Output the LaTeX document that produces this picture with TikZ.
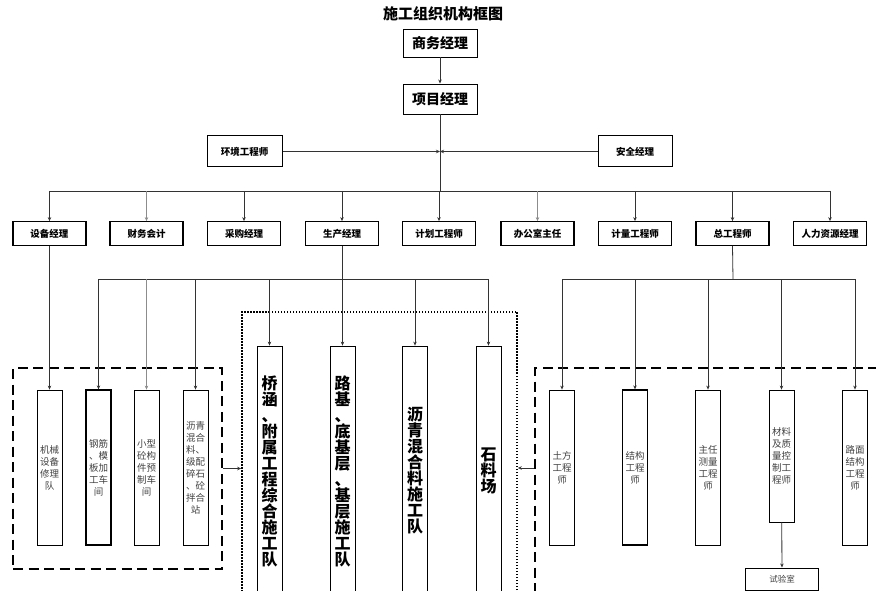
\documentclass[tikz,border=0pt]{standalone}
\usepackage{fontspec}
\setmainfont{Noto Sans CJK SC}
\usepackage{tikz}
\usetikzlibrary{arrows.meta, positioning}

\begin{document}
\begin{tikzpicture}[
    x=1pt, y=-1pt,
    mgr/.style={draw, line width=0.9pt, minimum width=74pt, minimum height=28pt,
      inner sep=0pt, font=\fontsize{14}{16}\selectfont\bfseries},
    side/.style={draw, line width=1pt, minimum width=75pt, minimum height=31pt,
      inner sep=0pt, font=\fontsize{9.5}{11}\selectfont\bfseries},
    dept/.style={draw, line width=1.3pt, minimum width=73pt, minimum height=23.5pt,
      inner sep=0pt, font=\fontsize{9.5}{11}\selectfont\bfseries},
    unit/.style={draw, line width=0.8pt, minimum width=25pt, minimum height=155pt,
      inner sep=0pt, align=center, text=black!75, font=\fontsize{9.5}{12}\selectfont},
    team/.style={draw, line width=0.8pt, minimum width=25pt, minimum height=250pt,
      inner sep=0pt, align=center, font=\fontsize{16}{16}\selectfont\bfseries},
    dashframe/.style={draw, line width=2.6pt, dash pattern=on 10pt off 5.5pt, inner sep=0pt},
    dotframe/.style={draw, line width=1.6pt, dash pattern=on 1.5pt off 1.5pt, inner sep=0pt},
    line/.style={line width=0.8pt, black!80},
    arrow/.style={line, -{Stealth[length=4pt,width=3.5pt]}},
    lightarrow/.style={arrow, black!45}
]
\useasboundingbox (0,0) rectangle (876,591);
\clip (0,0) rectangle (876,591);

% top of the chart
\node[font=\fontsize{15}{17}\selectfont\bfseries] (title) at (443,14) {施工组织机构框图};
\node[mgr] (biz) at (440,43) {商务经理};
\node[mgr, minimum height=30pt] (pm) at (440,99) {项目经理};
\node[side] (env) at (244.5,151.5) {环境工程师};
\node[side, minimum width=74pt] (safe) at (635,151.5) {安全经理};
\coordinate (bus) at (440,191);

% departments
\node[dept] (equip) at (49.5,233.5) {设备经理};
\node[dept] (fin) at (146.5,233.5) {财务会计};
\node[dept] (purch) at (244,233.5) {采购经理};
\node[dept] (prod) at (342,233.5) {生产经理};
\node[dept] (plan) at (439,233.5) {计划工程师};
\node[dept] (office) at (537.5,233.5) {办公室主任};
\node[dept] (meas) at (635,233.5) {计量工程师};
\node[dept] (chief) at (732.5,233.5) {总工程师};
\node[dept] (hr) at (830,233.5) {人力资源经理};
\coordinate (prodbus) at (342,279);
\coordinate (chiefbus) at (733,279);

% group frames
\node[dashframe, minimum width=209pt, minimum height=201pt] (leftgrp) at (117.5,468.5) {};
\node[dotframe, minimum width=275pt, minimum height=312pt] (midgrp) at (379.5,468) {};
\node[dashframe, minimum width=365pt, minimum height=264pt] (rightgrp) at (717.5,500) {};

% workshops
\node[unit] (repair) at (49.5,467.5) {机械\\设备\\修理\\队};
\node[unit, line width=1.3pt] (rebar) at (98.5,467.5) {钢筋\\、模\\板加\\工车\\间};
\node[unit] (precast) at (146.5,467.5) {小型\\砼构\\件预\\制车\\间};
\node[unit] (mixing) at (195.5,467.5) {沥青\\混合\\料、\\级配\\碎石\\、砼\\拌合\\站};

% construction teams
\node[team] (bridge) at (269.5,471) {桥\\涵\\、\\附\\属\\工\\程\\综\\合\\施\\工\\队};
\node[team] (subgrade) at (342.5,471) {路\\基\\、\\底\\基\\层\\、\\基\\层\\施\\工\\队};
\node[team] (asphalt) at (415,471) {沥\\青\\混\\合\\料\\施\\工\\队};
\node[team] (quarry) at (488.5,471) {石\\料\\场};

% engineers
\node[unit] (earth) at (562,467.5) {土方\\工程\\师};
\node[unit, line width=1.3pt] (struct) at (635,467.5) {结构\\工程\\师};
\node[unit] (survey) at (708,467.5) {主任\\测量\\工程\\师};
\node[unit, minimum height=132pt] (material) at (781.5,456) {材料\\及质\\量控\\制工\\程师};
\node[unit] (pave) at (855,467.5) {路面\\结构\\工程\\师};
\node[draw, line width=1pt, minimum width=73pt, minimum height=22pt, inner sep=0pt,
  text=black!75, font=\fontsize{8.5}{10}\selectfont] (lab) at (782,579) {试验室};

% connectors
\draw[arrow] (biz) -- (pm);
\draw[line] (pm.south) -- (bus);
\draw[arrow] (env.east) -- (env.east -| pm.south);
\draw[arrow] (safe.west) -- (safe.west -| pm.south);
\draw[line] (equip.north |- bus) -- (hr.north |- bus);
\draw[arrow] (equip.north |- bus) -- (equip.north);
\draw[lightarrow] (fin.north |- bus) -- (fin.north);
\draw[arrow] (purch.north |- bus) -- (purch.north);
\draw[arrow] (prod.north |- bus) -- (prod.north);
\draw[arrow] (plan.north |- bus) -- (plan.north);
\draw[lightarrow] (office.north |- bus) -- (office.north);
\draw[arrow] (meas.north |- bus) -- (meas.north);
\draw[arrow] (chief.north |- bus) -- (chief.north);
\draw[arrow] (hr.north |- bus) -- (hr.north);

\draw[arrow] (equip) -- (repair);
\draw[line] (prod.south) -- (prodbus);
\draw[line] (rebar.north |- prodbus) -- (quarry.north |- prodbus);
\draw[arrow] (rebar.north |- prodbus) -- (rebar.north);
\draw[lightarrow] (precast.north |- prodbus) -- (precast.north);
\draw[arrow] (mixing.north |- prodbus) -- (mixing.north);
\draw[arrow] (bridge.north |- prodbus) -- (bridge.north);
\draw[arrow] (subgrade.north |- prodbus) -- (subgrade.north);
\draw[arrow] (asphalt.north |- prodbus) -- (asphalt.north);
\draw[arrow] (quarry.north |- prodbus) -- (quarry.north);

\draw[line] (chief.south) -- (chiefbus);
\draw[line] (earth.north |- chiefbus) -- (pave.north |- chiefbus);
\draw[arrow] (earth.north |- chiefbus) -- (earth.north);
\draw[arrow] (struct.north |- chiefbus) -- (struct.north);
\draw[arrow] (survey.north |- chiefbus) -- (survey.north);
\draw[arrow] (material.north |- chiefbus) -- (material.north);
\draw[arrow] (pave.north |- chiefbus) -- (pave.north);
\draw[arrow] (material) -- (lab);

\draw[arrow] (leftgrp.east) -- (leftgrp.east -| midgrp.west);
\draw[arrow] (rightgrp.west |- midgrp.east) -- (midgrp.east);
\end{tikzpicture}
\end{document}
